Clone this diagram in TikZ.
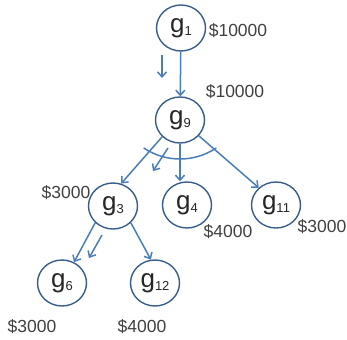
\documentclass[tikz,border=0pt]{standalone}
\usepackage{fontspec}
\setmainfont{Liberation Sans}
\usetikzlibrary{arrows.meta,shapes.geometric}
\definecolor{nodeline}{HTML}{385D8A}
\definecolor{arrowblue}{HTML}{4A7EBB}
\newcommand\glab[1]{\fontsize{26}{26}\selectfont g\raisebox{-3pt}{\fontsize{13}{13}\selectfont #1}}
\begin{document}
\begin{tikzpicture}[x=1pt,y=-1pt,
  gnode/.style={ellipse, draw=nodeline, line width=1.4pt, fill=white, minimum width=49pt, minimum height=46pt, inner sep=0pt, text=black!85},
  conn/.style={draw=arrowblue, line width=1.5pt, -{Straight Barb[length=5pt,width=9pt]}},
  arcline/.style={draw=arrowblue, line width=1.5pt},
  money/.style={font=\fontsize{17.5}{18}\selectfont, text=black!75, inner sep=0pt}]
\fill[white] (0,0) rectangle (347,339);
\useasboundingbox (0,0) rectangle (347,339);
% nodes
\node[gnode] (g1) at (181,28) {\glab{1}};
\node[gnode] (g9) at (180,120) {\glab{9}};
\node[gnode] (g3) at (113,206) {\glab{3}};
\node[gnode] (g4) at (187,205) {\glab{4}};
\node[gnode] (g11) at (276,205) {\glab{11}};
\node[gnode] (g6) at (62,283) {\glab{6}};
\node[gnode] (g12) at (155,283) {\glab{12}};
% labels
\node[money] (l1) at (238,31) {\$10000};
\node[money] (l9) at (235,92) {\$10000};
\node[money] (l3) at (66,193) {\$3000};
\node[money] (l4) at (228,232) {\$4000};
\node[money] (l11) at (322,227) {\$3000};
\node[money] (l6) at (32,327) {\$3000};
\node[money] (l12) at (142,327) {\$4000};
% connectors
\draw[conn] (g1) -- (g9);
\draw[conn] (g9.south west) -- (g3.70);
\draw[conn] (g9.south) -- (g9.south |- g4.north);
\draw[conn] (g9.-40) -- (g11.135);
\draw[conn] (g3.south west) -- (g6.60);
\draw[conn] (g3.south east) -- (g12.100);
% small annotation arrows
\coordinate (a1s) at (162,55);
\coordinate (a1e) at (162,78);
\coordinate (a2s) at (168,148);
\coordinate (a2e) at (153,171);
\coordinate (a3s) at (102,235);
\coordinate (a3e) at (89,258);
\draw[conn] (a1s) -- (a1e);
\draw[conn] (a2s) -- (a2e);
\draw[conn] (a3s) -- (a3e);
% arc across the branches
\coordinate (arcc) at (180,94);
\draw[arcline] (arcc) ++(124:65) arc[start angle=-124, end angle=-56, radius=65pt];
\end{tikzpicture}
\end{document}
